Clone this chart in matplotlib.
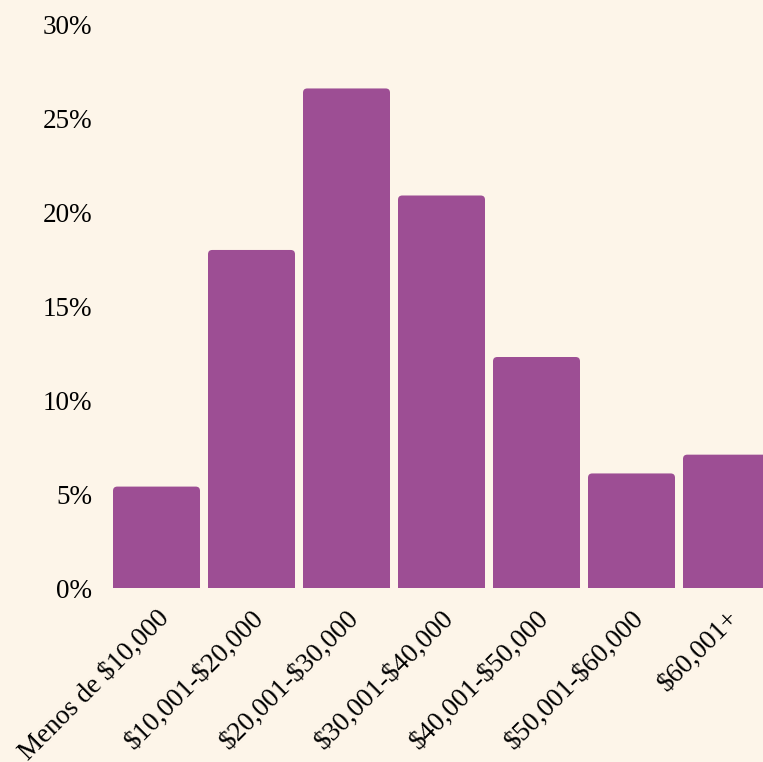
import matplotlib
matplotlib.use("Agg")
import matplotlib.pyplot as plt
from matplotlib.patches import FancyBboxPatch
from matplotlib.ticker import FuncFormatter

# income brackets and share of households (%)
categories = ["Menos de $10,000", "$10,001-$20,000", "$20,001-$30,000",
              "$30,001-$40,000", "$40,001-$50,000", "$50,001-$60,000",
              "$60,001+"]
shares = [5.4, 18.0, 26.6, 20.9, 12.3, 6.1, 7.1]
y_ticks = [0, 5, 10, 15, 20, 25, 30]

BG = "#fdf5e9"
BAR = "#9d4e94"

plt.rcParams["font.family"] = ["Liberation Serif", "DejaVu Serif"]
plt.rcParams["text.parse_math"] = False  # labels contain dollar signs

fig = plt.figure(figsize=(7.63, 7.62), dpi=100, facecolor=BG)
ax = fig.add_axes([109 / 763, 174 / 762, 665 / 763, 563.4 / 762])
ax.set_facecolor(BG)

x = list(range(len(categories)))
bars = ax.bar(x, shares, width=87 / 95, color="none")

# rounded top corners; the bottom corners fall below the axis and get clipped
for b in bars:
    patch = FancyBboxPatch((b.get_x(), -2), b.get_width(), b.get_height() + 2,
                           boxstyle="round,pad=0,rounding_size=0.045",
                           mutation_aspect=95 / 18.78,
                           facecolor=BAR, edgecolor="none")
    ax.add_patch(patch)

ax.set_xlim(-0.5, len(categories) - 0.5)
ax.set_ylim(0, 30)
ax.set_yticks(y_ticks)
ax.yaxis.set_major_formatter(FuncFormatter(lambda v, _: f"{v:.0f}%"))
ax.set_xticks(x)
ax.set_xticklabels(categories, rotation=45, ha="right", va="top",
                   rotation_mode="anchor")

ax.tick_params(axis="both", length=0, labelsize=19.5, colors="black")
ax.tick_params(axis="y", pad=12)
ax.tick_params(axis="x", pad=13)
for s in ax.spines.values():
    s.set_visible(False)

fig.savefig("out.png", dpi=100, facecolor=BG)
